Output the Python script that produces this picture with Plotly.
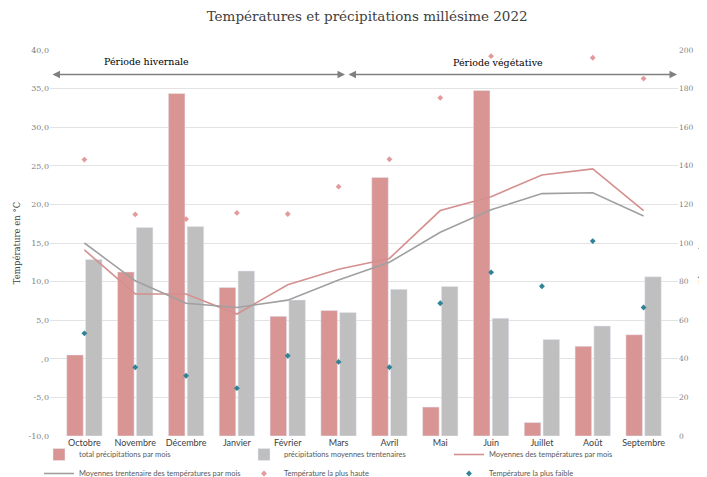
import plotly.graph_objects as go

months = ["Octobre", "Novembre", "Décembre", "Janvier", "Février", "Mars",
          "Avril", "Mai", "Juin", "Juillet", "Août", "Septembre"]
precip_2022 = [42, 85, 177.5, 77, 62, 65, 134, 15, 179, 7, 46.5, 52.5]
precip_30ans = [91.5, 108, 108.5, 85.5, 70.5, 64, 76, 77.5, 61, 50, 57, 82.5]
temp_moy_2022 = [14.1, 8.4, 8.4, 5.8, 9.6, 11.6, 13.0, 19.2, 21.0, 23.8, 24.6, 19.2]
temp_moy_30ans = [15.0, 10.1, 7.2, 6.65, 7.6, 10.2, 12.5, 16.4, 19.3, 21.4, 21.5, 18.5]
temp_max = [25.8, 18.7, 18.1, 18.9, 18.75, 22.3, 25.85, 33.8, 39.2, None, 39.0, 36.3]
temp_min = [3.3, -1.1, -2.2, -3.8, 0.4, -0.4, -1.1, 7.2, 11.2, 9.4, 15.25, 6.65]

temp_ticks = [-10, -5, 0, 5, 10, 15, 20, 25, 30, 35, 40]
temp_ticktext = ["-10,0", "-5,0", ",0", "5,0", "10,0", "15,0", "20,0", "25,0", "30,0", "35,0", "40,0"]
precip_ticks = [0, 20, 40, 60, 80, 100, 120, 140, 160, 180, 200]

SERIF = "DejaVu Serif, Liberation Serif, serif"
SANS = "Liberation Sans Narrow, Lato, Liberation Sans, sans-serif"

RED = "#D99594"
GREY = "#BFBFBF"

fig = go.Figure()
fig.add_trace(go.Bar(x=months, y=precip_2022, name="total précipitations par mois",
                     marker=dict(color=RED), yaxis="y"))
fig.add_trace(go.Bar(x=months, y=precip_30ans, name="précipitations moyennes trentenaires",
                     marker=dict(color=GREY), yaxis="y"))
fig.add_trace(go.Scatter(x=months, y=temp_moy_2022, name="Moyennes des températures par mois",
                         mode="lines", line=dict(color="#D4908F", width=1.6), yaxis="y2"))
fig.add_trace(go.Scatter(x=months, y=temp_moy_30ans, name="Moyennes trentenaire des températures par mois",
                         mode="lines", line=dict(color="#A0A0A0", width=1.6), yaxis="y2"))
fig.add_trace(go.Scatter(x=months, y=temp_max, name="Température la plus haute",
                         mode="markers", marker=dict(color="#E29A9A", symbol="diamond", size=4.5),
                         yaxis="y2"))
fig.add_trace(go.Scatter(x=months, y=temp_min, name="Température la plus faible",
                         mode="markers", marker=dict(color="#2E8396", symbol="diamond", size=4.5),
                         yaxis="y2"))

L, R, T, B = 42, 37, 42, 49
W, H = 707, 477
pw, ph = W - L - R, H - T - B


def px2dx(px):
    return (px - L) / pw


def px2dy(py):
    return 1 - (py - T) / ph


annotations = [
    dict(text="Période hivernale", x=px2dx(138), y=px2dy(53), xref="paper", yref="paper",
         xanchor="center", yanchor="middle", showarrow=False,
         font=dict(family=SERIF, size=9.5, color="#000000")),
    dict(text="Période végétative", x=px2dx(490), y=px2dy(54), xref="paper", yref="paper",
         xanchor="center", yanchor="middle", showarrow=False,
         font=dict(family=SERIF, size=9.5, color="#000000")),
]

arrow_y = px2dy(66.5)
for x0, x1 in [(43, 337), (339, 669)]:
    annotations.append(dict(
        x=px2dx(x1), y=arrow_y, ax=px2dx(x0), ay=arrow_y,
        xref="x domain", yref="y domain", axref="x domain", ayref="y domain",
        text="", showarrow=True, arrowhead=2, arrowside="end+start",
        arrowsize=1, arrowwidth=1.5, arrowcolor="#808080"))

fig.update_layout(
    width=W, height=H,
    margin=dict(l=L, r=R, t=T, b=B, autoexpand=False),
    paper_bgcolor="white", plot_bgcolor="white",
    title=dict(text="Températures et précipitations millésime 2022", x=0.508, xanchor="center",
               y=1 - 8 / H, yanchor="middle",
               font=dict(family=SERIF, size=13.5, color="#404040")),
    barmode="group", bargap=0.26, bargroupgap=0.12,
    xaxis=dict(type="category", showgrid=False, showline=False, ticks="", automargin=False,
               tickfont=dict(family=SANS, size=9, color="#404040")),
    yaxis=dict(side="right", range=[0, 200], tickvals=precip_ticks, automargin=False,
               showgrid=True, gridcolor="#E3E3E3", gridwidth=1, zeroline=False,
               showline=False, ticks="",
               title=dict(text="Pluviométrie en mm", standoff=5,
                          font=dict(family=SERIF, size=8, color="#404040")),
               tickfont=dict(family=SERIF, size=7.5, color="#7F7F7F")),
    yaxis2=dict(side="left", overlaying="y", range=[-10, 40], tickvals=temp_ticks, automargin=False,
                ticktext=temp_ticktext, showgrid=False, zeroline=False, showline=False,
                ticks="",
                title=dict(text="Température en °C", standoff=6,
                           font=dict(family=SERIF, size=8.5, color="#404040")),
                tickfont=dict(family=SERIF, size=8, color="#7F7F7F")),
    legend=dict(orientation="h", x=px2dx(31), xanchor="left", y=px2dy(432), yanchor="top",
                entrywidth=160, entrywidthmode="pixels", itemwidth=30,
                bgcolor="rgba(0,0,0,0)",
                font=dict(family=SANS, size=7.5, color="#595959"),
                tracegroupgap=0),
    annotations=annotations,
    showlegend=True,
)

fig.write_html("out.html")
